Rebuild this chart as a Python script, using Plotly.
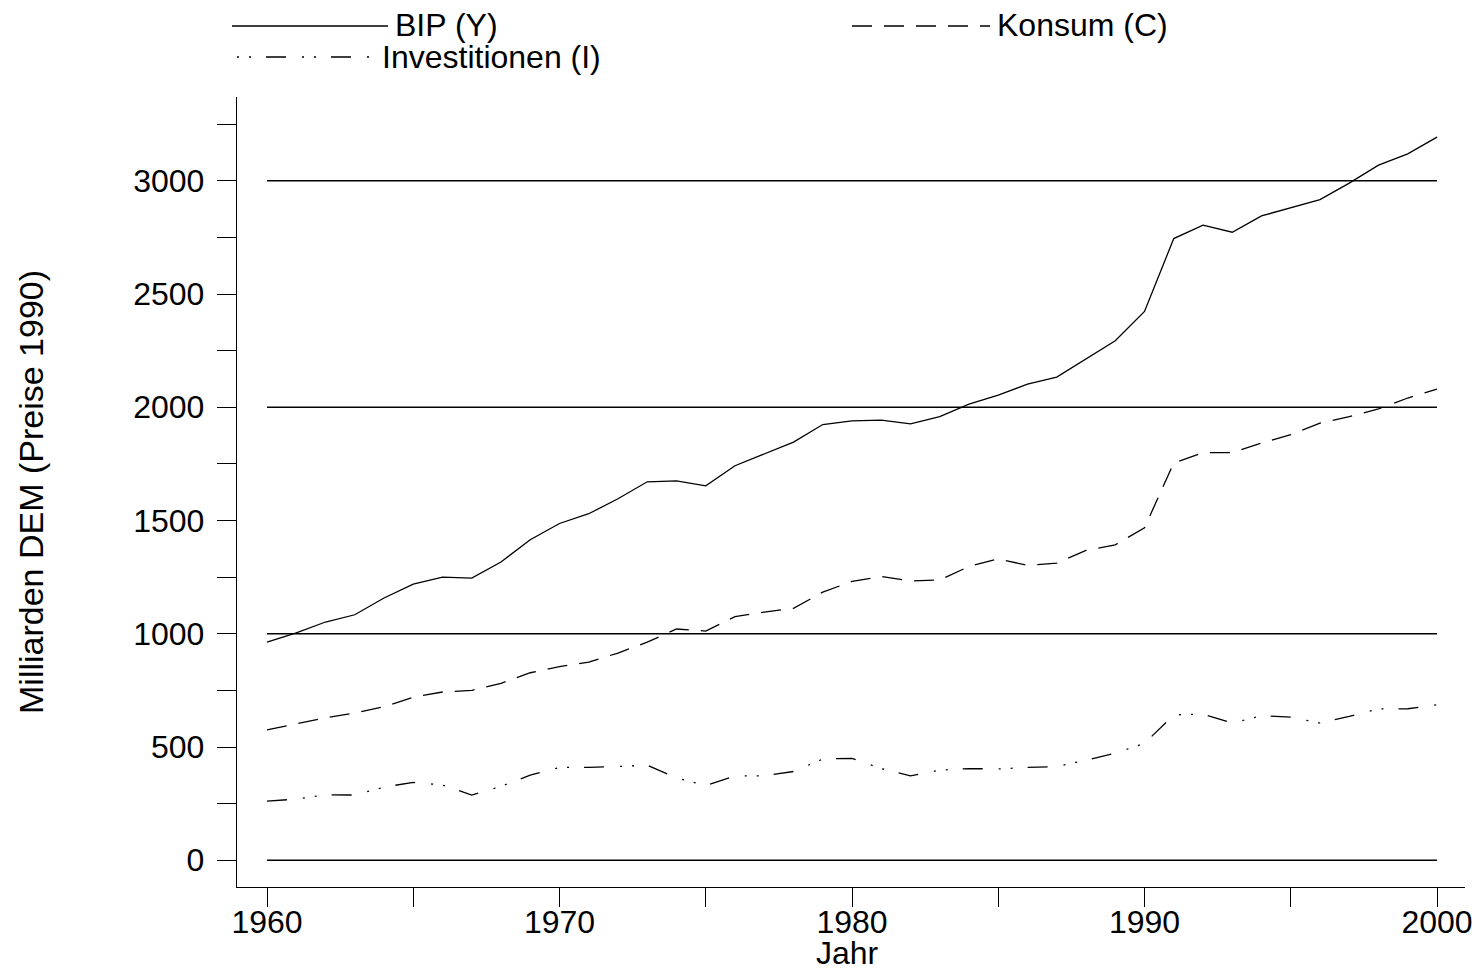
import plotly.graph_objects as go

years = list(range(1960, 2001))
bip = [963, 1004, 1052, 1084, 1158, 1219, 1250, 1246, 1317, 1415,
       1487, 1530, 1596, 1671, 1675, 1653, 1742, 1793, 1846, 1924,
       1940, 1943, 1927, 1959, 2014, 2054, 2102, 2133, 2214, 2294,
       2423, 2745, 2804, 2773, 2845, 2882, 2917, 2990, 3069, 3119, 3193]
konsum = [576, 604, 629, 650, 678, 720, 743, 750, 781, 828,
          855, 875, 915, 963, 1021, 1012, 1076, 1096, 1112, 1184,
          1231, 1253, 1233, 1238, 1297, 1331, 1302, 1312, 1368, 1393,
          1468, 1754, 1800, 1800, 1842, 1879, 1930, 1959, 1993, 2041, 2080]
invest = [261, 270, 289, 288, 323, 344, 332, 288, 326, 376,
          410, 410, 414, 420, 363, 330, 373, 373, 392, 447,
          450, 405, 373, 398, 405, 403, 410, 414, 442, 473,
          516, 642, 645, 606, 638, 632, 606, 635, 668, 669, 687]

series_names = ["BIP (Y)", "Konsum (C)", "Investitionen (I)"]
series_dash = ["solid", "20px,12px", "20px,16px,2px,10px,2px,15px"]
legend_dash = ["solid", "20px,12px", "2px,10px,2px,15px,20px,16px"]
grid_values = [0, 1000, 2000, 3000]
y_title = "Milliarden DEM (Preise 1990)"
x_title = "Jahr"

FONT = "Liberation Sans, Arial, Helvetica, sans-serif"
W, H = 1473, 971
# plot area in page pixels: x 237..1465, y 97..887
L, T = 237, 97
R = W - 1465
B = H - 887

fig = go.Figure()
for name, vals, dash in zip(series_names, [bip, konsum, invest], series_dash):
    fig.add_trace(go.Scatter(x=years, y=vals, mode="lines", name=name,
                             line=dict(color="black", width=1.3, dash=dash),
                             showlegend=False))

shapes = []
for g in grid_values:
    shapes.append(dict(type="line", xref="x", yref="y", x0=years[0], x1=years[-1],
                       y0=g, y1=g, line=dict(color="black", width=1.4), layer="below"))

pw = W - L - R
ph = H - T - B
def px_x(p):
    return (p - L) / pw
def px_y(p):
    return (H - B - p) / ph

# manual legend (long line samples), page pixel positions
legend_items = [
    (232, 388, 26, 393, 25),
    (852, 990, 26, 995, 25),
    (237, 375, 57, 380, 57),
]
annotations = []
for (x0, x1, ly, tx, ty), name, dash in zip(legend_items, series_names, legend_dash):
    shapes.append(dict(type="line", xref="paper", yref="paper",
                       x0=px_x(x0), x1=px_x(x1), y0=px_y(ly), y1=px_y(ly),
                       line=dict(color="black", width=1.3, dash=dash)))
    annotations.append(dict(text=name, xref="paper", yref="paper",
                            x=px_x(tx), y=px_y(ty), xanchor="left", yanchor="middle",
                            showarrow=False, font=dict(size=32, color="black", family=FONT)))

annotations.append(dict(text=x_title, xref="paper", yref="paper", x=px_x(847), y=px_y(953),
                        xanchor="center", yanchor="middle", showarrow=False,
                        font=dict(size=32, color="black", family=FONT)))
annotations.append(dict(text=y_title, xref="paper", yref="paper", x=px_x(31), y=px_y(492),
                        xanchor="center", yanchor="middle", textangle=-90, showarrow=False,
                        font=dict(size=34, color="black", family=FONT)))

fig.update_layout(
    width=W, height=H,
    margin=dict(l=L, r=R, t=T, b=B, pad=0, autoexpand=False),
    paper_bgcolor="white", plot_bgcolor="white",
    font=dict(family=FONT, size=32, color="black"),
    shapes=shapes, annotations=annotations,
    showlegend=False,
)
fig.update_xaxes(range=[1960 - 30 / 29.25, 2000 + 28 / 29.25], tick0=1960, dtick=10,
                 showgrid=False, zeroline=False, automargin=False,
                 showline=True, linecolor="black", linewidth=1.4,
                 ticks="outside", ticklen=19, tickwidth=1.4, tickcolor="black",
                 ticklabelstandoff=-13, ticklabeloverflow="allow",
                 minor=dict(dtick=5, tick0=1960, ticks="outside", ticklen=19,
                            tickwidth=1.4, tickcolor="black", showgrid=False),
                 tickfont=dict(size=32, family=FONT, color="black"))
fig.update_yaxes(range=[-118, 3370], tick0=0, dtick=500,
                 showgrid=False, zeroline=False, automargin=False,
                 showline=True, linecolor="black", linewidth=1.4,
                 ticks="outside", ticklen=19, tickwidth=1.4, tickcolor="black",
                 ticklabelstandoff=6,
                 minor=dict(dtick=250, tick0=0, ticks="outside", ticklen=19,
                            tickwidth=1.4, tickcolor="black", showgrid=False),
                 tickfont=dict(size=32, family=FONT, color="black"))

fig.write_html("out.html",
               config={"displayModeBar": False},
               post_script="document.body.style.margin='0';document.body.style.overflow='hidden';")
